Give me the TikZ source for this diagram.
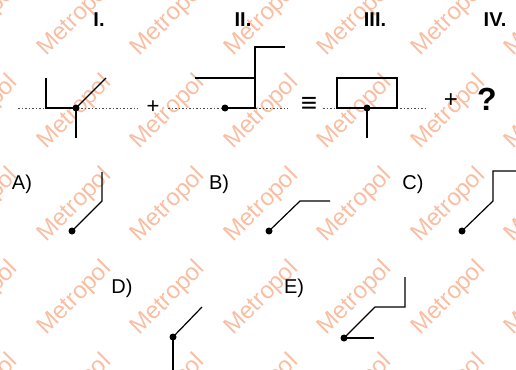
\documentclass[tikz,border=0pt]{standalone}
\usepackage{fontspec}
\setmainfont{Liberation Sans}
\definecolor{wm}{RGB}{249,190,162}
\tikzset{
  fig/.style={line width=1.2pt, line join=miter, black},
  dotline/.style={line width=0.8pt, black!70, dash pattern=on 1.5pt off 2pt},
  wmark/.style={anchor=base west, rotate=45, text=wm, font=\fontsize{24}{24}\selectfont, inner sep=0pt},
  roman/.style={font=\bfseries\fontsize{20}{20}\selectfont, anchor=base, inner sep=0pt},
  opt/.style={font=\fontsize{20}{20}\selectfont, anchor=base, inner sep=0pt},
  sym/.style={font=\fontsize{22}{22}\selectfont, inner sep=0pt},
  pt/.style={circle, fill=black, inner sep=0pt, minimum size=7pt},
}
\begin{document}
\begin{tikzpicture}[x=1pt,y=-1pt]
\useasboundingbox (0,0) rectangle (516,369);
\clip (0,0) rectangle (516,369);
% watermarks
\foreach \i in {-1,...,5}{
  \foreach \j in {0,...,4}{
    \node[wmark] (w\i\j) at ({46+93.5*\i},{57+93*\j}) {Metropol};
  }
}
% headers
\node[roman] (hI) at (99,27) {I.};
\node[roman] (hII) at (243,27) {II.};
\node[roman] (hIII) at (375,27) {III.};
\node[roman] (hIV) at (495,27) {IV.};
% dotted base lines
\coordinate (dAa) at (18,108); \coordinate (dAb) at (138,108);
\coordinate (dBa) at (168,108); \coordinate (dBb) at (288,108);
\coordinate (dCa) at (323,108); \coordinate (dCb) at (426,108);
\draw[dotline] (dAa) -- (dAb);
\draw[dotline] (dBa) -- (dBb);
\draw[dotline] (dCa) -- (dCb);
% operators
\node[sym] (plus1) at (153,107) {+};
\node[sym, font=\fontsize{28}{28}\selectfont] (equiv) at (309,105) {≡};
\node[sym, font=\fontsize{24}{24}\selectfont] (plus2) at (451,101) {+};
\node[font=\bfseries\fontsize{32}{32}\selectfont, anchor=base, inner sep=0pt] (q) at (487,110) {?};
% Figure I
\coordinate (p1) at (76,108);
\coordinate (p1a) at (46,78); \coordinate (p1b) at (46,108);
\coordinate (p1c) at (106,78); \coordinate (p1d) at (76,138);
\draw[fig] (p1a) -- (p1b) -- (p1);
\draw[fig] (p1) -- (p1c);
\draw[fig] (p1) -- (p1d);
\node[pt] (n1) at (p1) {};
% Figure II
\coordinate (p2) at (225,108);
\coordinate (p2a) at (255,108); \coordinate (p2b) at (255,47); \coordinate (p2c) at (285,47);
\coordinate (p2d) at (195,78); \coordinate (p2e) at (255,78);
\draw[fig] (p2) -- (p2a) -- (p2b) -- (p2c);
\draw[fig] (p2d) -- (p2e);
\node[pt] (n2) at (p2) {};
% Figure III
\coordinate (p3) at (367,108);
\coordinate (p3a) at (337,78); \coordinate (p3b) at (397,108); \coordinate (p3c) at (367,138);
\draw[fig] (p3a) rectangle (p3b);
\draw[fig] (p3) -- (p3c);
\node[pt] (n3) at (p3) {};
% option labels
\node[opt] (lA) at (22,189) {A)};
\node[opt] (lB) at (219,189) {B)};
\node[opt] (lC) at (413,189) {C)};
\node[opt] (lD) at (122,293) {D)};
\node[opt] (lE) at (294,293) {E)};
% A
\coordinate (pA) at (72,231); \coordinate (pAa) at (102,201); \coordinate (pAb) at (102,172);
\draw[fig] (pA) -- (pAa) -- (pAb);
\node[pt] (nA) at (pA) {};
% B
\coordinate (pB) at (269,231); \coordinate (pBa) at (300,201); \coordinate (pBb) at (330,201);
\draw[fig] (pB) -- (pBa) -- (pBb);
\node[pt] (nB) at (pB) {};
% C
\coordinate (pC) at (462,231); \coordinate (pCa) at (493,201); \coordinate (pCb) at (493,171); \coordinate (pCc) at (523,171);
\draw[fig] (pC) -- (pCa) -- (pCb) -- (pCc);
\node[pt] (nC) at (pC) {};
% D
\coordinate (pD) at (173,337); \coordinate (pDa) at (202,307); \coordinate (pDb) at (173,372);
\draw[fig] (pD) -- (pDa);
\draw[fig] (pD) -- (pDb);
\node[pt] (nD) at (pD) {};
% E
\coordinate (pE) at (344,338); \coordinate (pEa) at (374,338);
\coordinate (pEb) at (375,307); \coordinate (pEc) at (405,307); \coordinate (pEd) at (405,277);
\draw[fig] (pE) -- (pEa);
\draw[fig] (pE) -- (pEb) -- (pEc) -- (pEd);
\node[pt] (nE) at (pE) {};
\end{tikzpicture}
\end{document}
